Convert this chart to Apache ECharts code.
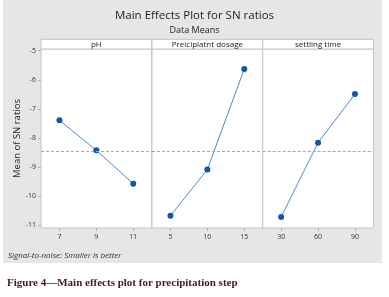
<!DOCTYPE html>
<html>
<head>
<meta charset="utf-8">
<script src="https://cdn.jsdelivr.net/npm/echarts@6/dist/echarts.min.js"></script>
<style>html,body{margin:0;padding:0;background:#fff;}#c{width:389px;height:297px;}</style>
</head>
<body>
<div id="c"></div>
<script>
const panelNames = ['pH', 'Preiciplatnt dosage', 'settling time'];
const phLevels = ['7', '9', '11'];
const dosageLevels = ['5', '10', '15'];
const timeLevels = ['30', '60', '90'];
const phValues = [-7.39, -8.42, -9.57];
const dosageValues = [-10.67, -9.08, -5.63];
const timeValues = [-10.71, -8.16, -6.49];
const yTicks = [-5, -6, -7, -8, -9, -10, -11];

const allVals = phValues.concat(dosageValues, timeValues);
const grandMean = allVals.reduce((a, b) => a + b, 0) / allVals.length;

const cats = [phLevels, dosageLevels, timeLevels];
const vals = [phValues, dosageValues, timeValues];

const panelLeft = [41, 152, 262.7];
const panelW = 110.7;
const gridTop = 49, gridH = 179;
const fontFam = '"Open Sans", "Noto Sans", sans-serif';

const grids = [], xAxes = [], yAxes = [], series = [], graphics = [];

graphics.push({type: 'rect', shape: {x: 3, y: 0, width: 379, height: 263}, style: {fill: '#e6e6e6'}, z: -10, silent: true});

for (let i = 0; i < 3; i++) {
  grids.push({left: panelLeft[i], top: gridTop, width: panelW, height: gridH, show: true,
    backgroundColor: '#ffffff', borderColor: '#c4c4c4', borderWidth: 1});
  xAxes.push({type: 'category', gridIndex: i, data: cats[i], boundaryGap: true,
    axisLine: {show: false},
    axisTick: {show: true, alignWithLabel: true, length: 3, lineStyle: {color: '#b0b0b0'}},
    axisLabel: {fontSize: 7, color: '#333', margin: 5, fontFamily: fontFam}});
  yAxes.push({type: 'value', gridIndex: i, min: -11.09, max: -4.94,
    splitLine: {show: false}, axisLine: {show: false},
    axisTick: {show: i === 0, length: 3, customValues: yTicks, lineStyle: {color: '#b0b0b0'}},
    axisLabel: {show: i === 0, fontSize: 7, color: '#333', margin: 5, customValues: yTicks, fontFamily: fontFam},
    name: i === 0 ? 'Mean of SN ratios' : '', nameLocation: 'middle', nameGap: 17,
    nameTextStyle: {fontSize: 9.5, color: '#222', fontFamily: fontFam}});
  series.push({type: 'line', xAxisIndex: i, yAxisIndex: i, data: vals[i],
    symbol: 'circle', symbolSize: 6,
    lineStyle: {color: '#4a8ad6', width: 1},
    itemStyle: {color: '#1256a6'},
    markLine: {silent: true, symbol: 'none', label: {show: false},
      lineStyle: {color: '#a8a8a8', type: [3, 2], width: 1},
      data: [{yAxis: grandMean}]}});
  graphics.push({type: 'rect', shape: {x: panelLeft[i], y: 39.3, width: panelW, height: 9.7},
    style: {fill: '#ffffff', stroke: '#c4c4c4', lineWidth: 1}, silent: true});
  graphics.push({type: 'text', x: panelLeft[i] + panelW / 2, y: 44.3,
    style: {text: panelNames[i], fontSize: 8, fill: '#222', align: 'center', verticalAlign: 'middle', fontFamily: fontFam}, silent: true});
}

graphics.push({type: 'text', x: 194.5, y: 16,
  style: {text: 'Main Effects Plot for SN ratios', fontSize: 11.5, fill: '#1e1e1e', align: 'center', verticalAlign: 'middle', fontFamily: fontFam}});
graphics.push({type: 'text', x: 194.5, y: 30,
  style: {text: 'Data Means', fontSize: 9, fill: '#222', align: 'center', verticalAlign: 'middle', fontFamily: fontFam}});
graphics.push({type: 'text', x: 8, y: 255.5,
  style: {text: 'Signal-to-noise: Smaller is better', fontSize: 8, fontStyle: 'italic', fill: '#333', verticalAlign: 'middle', fontFamily: fontFam}});
graphics.push({type: 'text', x: 7, y: 283,
  style: {text: 'Figure 4\u2014Main effects plot for precipitation step', fontSize: 11, fontWeight: 'bold', fill: '#421c1c', verticalAlign: 'middle', fontFamily: '"Liberation Serif", "DejaVu Serif", serif'}});

const chart = echarts.init(document.getElementById('c'), null, {renderer: 'canvas'});
chart.setOption({
  animation: false,
  backgroundColor: '#ffffff',
  grid: grids, xAxis: xAxes, yAxis: yAxes, series: series,
  graphic: {elements: graphics}
});
</script>
</body>
</html>
